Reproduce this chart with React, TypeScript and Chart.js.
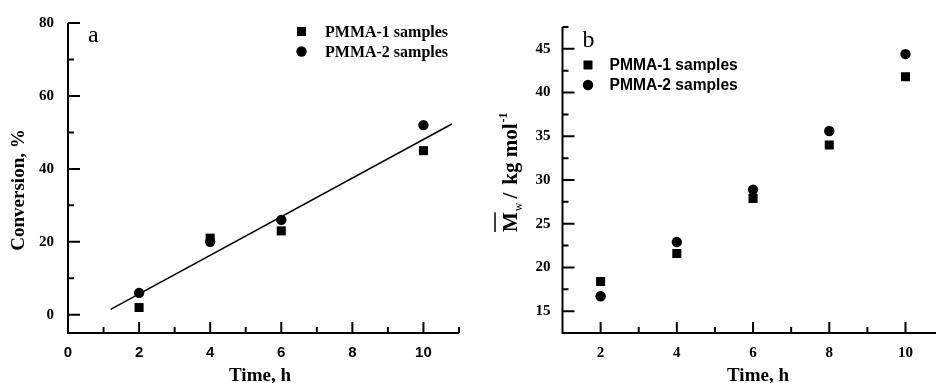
import React, { useEffect, useRef } from 'react';
import { Chart, registerables } from 'chart.js';

Chart.register(...registerables);

// ---------- data ----------
const seriesNames = ['PMMA-1 samples', 'PMMA-2 samples'];

// panel a: conversion vs time
const timeA = [2, 4, 6, 10];
const conversion1 = [2, 21, 23, 45];
const conversion2 = [6, 20, 26, 52];
const fitTime = [1.2, 10.8];
const fitConversion = [1.5, 52.3];

// panel b: Mw vs time
const timeB = [2, 4, 6, 8, 10];
const mw1 = [18.4, 21.6, 27.9, 34.0, 41.8];
const mw2 = [16.7, 22.9, 28.9, 35.6, 44.4];

// ticks
const xMajorA = [0, 2, 4, 6, 8, 10];
const xMinorA = [1, 3, 5, 7, 9, 11];
const yMajorA = [0, 20, 40, 60, 80];
const yMinorA = [10, 30, 50, 70];
const xMajorB = [2, 4, 6, 8, 10];
const xMinorB = [3, 5, 7, 9];
const yMajorB = [15, 20, 25, 30, 35, 40, 45];
const yMinorB = [17.5, 22.5, 27.5, 32.5, 37.5, 42.5, 47.5];

const SERIF = '"Liberation Serif", "Times New Roman", serif';
const SANS = '"Liberation Sans", Arial, sans-serif';

const pts = (xs: number[], ys: number[]) => xs.map((x, i) => ({ x, y: ys[i] }));

type FrameOpts = {
  xMajor: number[];
  xMinor: number[];
  yMajor: number[];
  yMinor: number[];
  legend: { mx: number; tx: number; y0: number; dy: number; font: string };
  letter: { text: string; x: number; y: number };
  xTitle: { x: number; y: number };
  yTitle: (ctx: CanvasRenderingContext2D) => void;
};

function framePlugin(o: FrameOpts) {
  return {
    id: 'frame',
    afterDraw(chart: any) {
      const { ctx, chartArea: a } = chart;
      const xs = chart.scales.x;
      const ys = chart.scales.y;
      ctx.save();
      ctx.strokeStyle = '#000';
      ctx.fillStyle = '#000';
      ctx.lineWidth = 2;
      ctx.beginPath();
      ctx.moveTo(a.left, a.top);
      ctx.lineTo(a.left, a.bottom);
      ctx.lineTo(a.right, a.bottom);
      o.xMajor.forEach((v) => {
        const p = xs.getPixelForValue(v);
        ctx.moveTo(p, a.bottom);
        ctx.lineTo(p, a.bottom - 11);
      });
      o.xMinor.forEach((v) => {
        const p = xs.getPixelForValue(v);
        ctx.moveTo(p, a.bottom);
        ctx.lineTo(p, a.bottom - 6);
      });
      o.yMajor.forEach((v) => {
        const p = ys.getPixelForValue(v);
        ctx.moveTo(a.left, p);
        ctx.lineTo(a.left + 12, p);
      });
      o.yMinor.forEach((v) => {
        const p = ys.getPixelForValue(v);
        ctx.moveTo(a.left, p);
        ctx.lineTo(a.left + 6, p);
      });
      ctx.stroke();

      // legend
      const L = o.legend;
      ctx.font = L.font;
      ctx.textBaseline = 'middle';
      ctx.textAlign = 'left';
      ctx.fillRect(L.mx - 4.5, L.y0 - 4.5, 9, 9);
      ctx.fillText(seriesNames[0], L.tx, L.y0 + 1);
      ctx.beginPath();
      ctx.arc(L.mx, L.y0 + L.dy, 5.2, 0, Math.PI * 2);
      ctx.fill();
      ctx.fillText(seriesNames[1], L.tx, L.y0 + L.dy + 1);

      // panel letter
      ctx.font = `24px ${SERIF}`;
      ctx.textBaseline = 'alphabetic';
      ctx.fillText(o.letter.text, o.letter.x, o.letter.y);

      // x title
      ctx.font = `bold 19px ${SERIF}`;
      ctx.textAlign = 'center';
      ctx.fillText('Time, h', o.xTitle.x, o.xTitle.y);

      o.yTitle(ctx);
      ctx.restore();
    },
  };
}

function makeScale(min: number, max: number, major: number[], font: any, padding: number, fit: (s: any) => void) {
  return {
    type: 'linear',
    min,
    max,
    afterFit: fit,
    afterBuildTicks: (s: any) => {
      s.ticks = major.map((v) => ({ value: v }));
    },
    grid: { display: false, drawTicks: false },
    border: { display: false },
    ticks: {
      padding,
      color: '#000',
      font,
      maxRotation: 0,
      autoSkip: false,
      callback: (v: any) => String(v),
    },
  };
}

const squareStyle = { pointStyle: 'rect', pointRadius: 6.4, backgroundColor: '#000', borderColor: '#000', borderWidth: 0 };
const circleStyle = { pointStyle: 'circle', pointRadius: 5.2, backgroundColor: '#000', borderColor: '#000', borderWidth: 0 };

export default function App() {
  const refA = useRef<HTMLCanvasElement>(null);
  const refB = useRef<HTMLCanvasElement>(null);

  useEffect(() => {
    const chartA = new Chart(refA.current as HTMLCanvasElement, {
      type: 'scatter',
      data: {
        datasets: [
          { label: seriesNames[0], data: pts(timeA, conversion1), ...squareStyle } as any,
          { label: seriesNames[1], data: pts(timeA, conversion2), ...circleStyle } as any,
          {
            type: 'line',
            label: 'fit',
            data: pts(fitTime, fitConversion),
            borderColor: '#000',
            borderWidth: 1.5,
            pointRadius: 0,
            fill: false,
          } as any,
        ],
      },
      options: {
        responsive: false,
        animation: false,
        layout: { padding: { top: 19, right: 11, left: 0, bottom: 0 } },
        plugins: { legend: { display: false }, tooltip: { enabled: false } },
        scales: {
          x: makeScale(0, 11, xMajorA, { family: SANS, weight: 'bold', size: 15 }, 11, (s) => {
            s.height = 50;
          }),
          y: makeScale(-5, 80, yMajorA, { family: SERIF, weight: 'bold', size: 15 }, 14, (s) => {
            s.width = 68;
          }),
        } as any,
      },
      plugins: [
        framePlugin({
          xMajor: xMajorA,
          xMinor: xMinorA,
          yMajor: yMajorA,
          yMinor: yMinorA,
          legend: { mx: 301.5, tx: 325, y0: 31.5, dy: 20, font: `bold 16px ${SERIF}` },
          letter: { text: 'a', x: 88, y: 42 },
          xTitle: { x: 260, y: 381 },
          yTitle: (ctx) => {
            ctx.save();
            ctx.translate(19, 190);
            ctx.rotate(-Math.PI / 2);
            ctx.font = `bold 19px ${SERIF}`;
            ctx.textAlign = 'center';
            ctx.textBaseline = 'middle';
            ctx.fillText('Conversion, %', 0, 0);
            ctx.restore();
          },
        }),
      ],
    });

    const chartB = new Chart(refB.current as HTMLCanvasElement, {
      type: 'scatter',
      data: {
        datasets: [
          { label: seriesNames[0], data: pts(timeB, mw1), ...squareStyle } as any,
          { label: seriesNames[1], data: pts(timeB, mw2), ...circleStyle } as any,
        ],
      },
      options: {
        responsive: false,
        animation: false,
        layout: { padding: { top: 27, right: 6, left: 0, bottom: 0 } },
        plugins: { legend: { display: false }, tooltip: { enabled: false } },
        scales: {
          x: makeScale(1, 11, xMajorB, { family: SERIF, weight: 'bold', size: 15 }, 11, (s) => {
            s.height = 50;
          }),
          y: makeScale(12.5, 47.5, yMajorB, { family: SERIF, weight: 'bold', size: 15 }, 12, (s) => {
            s.width = 82.5;
          }),
        } as any,
      },
      plugins: [
        framePlugin({
          xMajor: xMajorB,
          xMinor: xMinorB,
          yMajor: yMajorB,
          yMinor: yMinorB,
          legend: { mx: 108, tx: 129.5, y0: 65, dy: 20, font: `bold 15.6px ${SANS}` },
          letter: { text: 'b', x: 102.5, y: 46.5 },
          xTitle: { x: 278, y: 381 },
          yTitle: (ctx) => {
            ctx.save();
            ctx.translate(37, 232);
            ctx.rotate(-Math.PI / 2);
            ctx.textAlign = 'left';
            ctx.textBaseline = 'alphabetic';
            ctx.font = `bold 21px ${SERIF}`;
            const mW = ctx.measureText('M').width;
            ctx.fillText('M', 0, 0);
            ctx.lineWidth = 1.5;
            ctx.beginPath();
            ctx.moveTo(0, -22);
            ctx.lineTo(mW, -22);
            ctx.stroke();
            let x = mW + 1;
            ctx.font = `12px ${SERIF}`;
            ctx.fillText('w', x, 5);
            x += ctx.measureText('w').width + 4;
            ctx.font = `bold 21px ${SERIF}`;
            ctx.fillText('/', x, 0);
            x += ctx.measureText('/').width + 8;
            ctx.fillText('kg mol', x, 0);
            x += ctx.measureText('kg mol').width + 1;
            ctx.font = `bold 12px ${SERIF}`;
            ctx.fillText('-1', x, -10);
            ctx.restore();
          },
        }),
      ],
    });

    return () => {
      chartA.destroy();
      chartB.destroy();
    };
  }, []);

  return (
    <div
      style={{
        position: 'fixed',
        left: 0,
        top: 0,
        width: 936,
        height: 383,
        overflow: 'hidden',
        background: '#fff',
      }}
    >
      <canvas ref={refA} width={470} height={383} style={{ position: 'absolute', left: 0, top: 0 }} />
      <canvas ref={refB} width={470} height={383} style={{ position: 'absolute', left: 480, top: 0 }} />
    </div>
  );
}
